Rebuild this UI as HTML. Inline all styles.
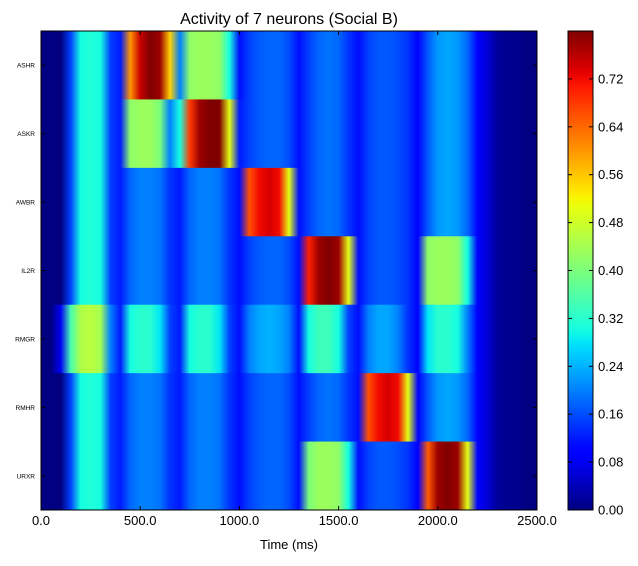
<!DOCTYPE html>
<html><head><meta charset="utf-8"><style>
body{margin:0;background:#fff;font-family:"Liberation Sans",sans-serif}
</style></head><body>
<svg id="c" width="638" height="561" xmlns="http://www.w3.org/2000/svg"></svg>
<script>
const neurons=["ASHR","ASKR","AWBR","IL2R","RMGR","RMHR","URXR"];
const timeStep=50;
const rowASHR=[0,0,0,0.15,0.3,0.31,0.3,0.15,0.12,0.6,0.75,0.8,0.78,0.55,0.2,0.42,0.43,0.43,0.42,0.3,0.11,0.15,0.17,0.18,0.18,0.16,0.11,0.15,0.18,0.19,0.18,0.14,0.11,0.15,0.17,0.17,0.16,0.14,0.1,0.17,0.22,0.23,0.22,0.18,0.1,0.06,0.02,0.01,0.01,0,0];
const rowASKR=[0,0,0,0.15,0.3,0.31,0.3,0.15,0.12,0.42,0.43,0.43,0.4,0.2,0.3,0.68,0.78,0.8,0.8,0.5,0.12,0.15,0.17,0.18,0.18,0.16,0.11,0.15,0.18,0.19,0.18,0.14,0.11,0.15,0.17,0.17,0.16,0.14,0.1,0.17,0.22,0.23,0.22,0.18,0.1,0.06,0.02,0.01,0.01,0,0];
const rowAWBR=[0,0,0,0.15,0.3,0.31,0.3,0.15,0.12,0.18,0.2,0.2,0.19,0.14,0.12,0.18,0.2,0.2,0.19,0.14,0.11,0.66,0.72,0.74,0.72,0.5,0.11,0.15,0.18,0.19,0.18,0.14,0.11,0.15,0.17,0.17,0.16,0.14,0.1,0.17,0.22,0.23,0.22,0.18,0.1,0.06,0.02,0.01,0.01,0,0];
const rowIL2R=[0,0,0,0.15,0.3,0.31,0.3,0.15,0.12,0.18,0.2,0.2,0.19,0.14,0.12,0.18,0.2,0.2,0.19,0.14,0.11,0.15,0.17,0.18,0.18,0.16,0.11,0.7,0.78,0.8,0.78,0.5,0.11,0.15,0.17,0.17,0.16,0.14,0.1,0.42,0.43,0.43,0.42,0.3,0.1,0.06,0.02,0.01,0.01,0,0];
const rowRMGR=[0,0,0.08,0.35,0.45,0.46,0.44,0.2,0.12,0.3,0.32,0.32,0.28,0.15,0.12,0.3,0.32,0.32,0.28,0.15,0.11,0.2,0.23,0.24,0.23,0.2,0.11,0.3,0.34,0.34,0.3,0.15,0.11,0.2,0.23,0.23,0.2,0.14,0.1,0.28,0.32,0.32,0.3,0.2,0.1,0.06,0.02,0.01,0.01,0,0];
const rowRMHR=[0,0,0,0.15,0.3,0.31,0.3,0.15,0.12,0.18,0.2,0.2,0.19,0.14,0.12,0.18,0.2,0.2,0.19,0.14,0.11,0.15,0.17,0.18,0.18,0.16,0.11,0.15,0.18,0.19,0.18,0.14,0.11,0.66,0.72,0.74,0.72,0.5,0.1,0.17,0.22,0.23,0.22,0.18,0.1,0.06,0.02,0.01,0.01,0,0];
const rowURXR=[0,0,0,0.15,0.3,0.31,0.3,0.15,0.12,0.18,0.2,0.2,0.19,0.14,0.12,0.18,0.2,0.2,0.19,0.14,0.11,0.15,0.17,0.18,0.18,0.16,0.11,0.4,0.43,0.43,0.42,0.3,0.11,0.15,0.17,0.17,0.16,0.14,0.1,0.65,0.78,0.8,0.78,0.5,0.1,0.06,0.02,0.01,0.01,0,0];
const xTicks=[0,500,1000,1500,2000,2500];
const xTickLabels=["0.0","500.0","1000.0","1500.0","2000.0","2500.0"];
const cbTicks=[0,0.08,0.16,0.24,0.32,0.40,0.48,0.56,0.64,0.72];
const cbTickLabels=["0.00","0.08","0.16","0.24","0.32","0.40","0.48","0.56","0.64","0.72"];
const vmax=0.8, tMax=2500;

const rows=[rowASHR,rowASKR,rowAWBR,rowIL2R,rowRMGR,rowRMHR,rowURXR];
const L=41,R=537,T=31,B=510;
const xs=t=>L+(t/tMax)*(R-L);
const rowH=(B-T)/neurons.length;
const cbY=v=>B-(v/vmax)*(B-T);
const NS="http://www.w3.org/2000/svg";
const svg=document.getElementById('c');
function mk(tag,attrs,parent){const e=document.createElementNS(NS,tag);for(const k in attrs)e.setAttribute(k,attrs[k]);(parent||svg).appendChild(e);return e;}
const jetR=[[0,0],[0.35,0],[0.66,1],[0.89,1],[1,0.5]];
const jetG=[[0,0],[0.125,0],[0.375,1],[0.64,1],[0.91,0],[1,0]];
const jetB=[[0,0.5],[0.11,1],[0.34,1],[0.65,0],[1,0]];
function seg(s,v){for(let i=1;i<s.length;i++){if(v<=s[i][0]){const a=s[i-1],b=s[i];return a[1]+(b[1]-a[1])*(v-a[0])/(b[0]-a[0]);}}return s[s.length-1][1];}
function jet(v){v=Math.max(0,Math.min(1,v));
 return `rgb(${Math.round(seg(jetR,v)*255)},${Math.round(seg(jetG,v)*255)},${Math.round(seg(jetB,v)*255)})`;}
const defs=mk('defs',{});
rows.forEach((row,i)=>{
 const gid='g'+i;
 const g=mk('linearGradient',{id:gid,x1:L,x2:R,y1:0,y2:0,gradientUnits:'userSpaceOnUse'},defs);
 row.forEach((v,j)=>{mk('stop',{offset:(xs(j*timeStep)-L)/(R-L),'stop-color':jet(v/vmax)},g);});
 const r=mk('rect',{x:L,y:T+i*rowH,width:R-L,height:rowH+0.5,fill:`url(#${gid})`});
 
 
 const yc=T+(i+0.5)*rowH;
 const lb=mk('text',{x:35,y:yc+2.5,'text-anchor':'end','font-size':6.5,fill:'#000'});lb.textContent=neurons[i];
 
 
 mk('line',{x1:L,x2:L+4,y1:yc,y2:yc,stroke:'#000'});
 mk('line',{x1:R-4,x2:R,y1:yc,y2:yc,stroke:'#000'});
});
const fr=mk('rect',{x:L,y:T,width:R-L,height:B-T,fill:'none',stroke:'#000','stroke-width':1});


xTicks.forEach((t,i)=>{
 const x=xs(t);
 mk('line',{x1:x,x2:x,y1:B,y2:B-4,stroke:'#000'});
 mk('line',{x1:x,x2:x,y1:T,y2:T+4,stroke:'#000'});
 const tx=mk('text',{x:x,y:525,'text-anchor':'middle','font-size':13});tx.textContent=xTickLabels[i];
 
 
});
const ttl=mk('text',{x:289,y:24,'text-anchor':'middle','font-size':16});ttl.textContent="Activity of 7 neurons (Social B)";


const xl=mk('text',{x:289,y:549,'text-anchor':'middle','font-size':13});xl.textContent="Time (ms)";


const CL=568,CR=593;
const cg=mk('linearGradient',{id:'cbg',x1:0,x2:0,y1:1,y2:0},defs);
for(let k=0;k<=60;k++){mk('stop',{offset:k/60,'stop-color':jet(k/60)},cg);}
const cb=mk('rect',{x:CL,y:T,width:CR-CL,height:B-T,fill:'url(#cbg)',stroke:'#000'});


cbTicks.forEach((v,i)=>{
 const y=cbY(v);
 mk('line',{x1:CR-4,x2:CR,y1:y,y2:y,stroke:'#000'});
 mk('line',{x1:CL,x2:CL+4,y1:y,y2:y,stroke:'#000'});
 const tx=mk('text',{x:598,y:y+4.5,'font-size':13});tx.textContent=cbTickLabels[i];
 
 
});
</script>
</body></html>
